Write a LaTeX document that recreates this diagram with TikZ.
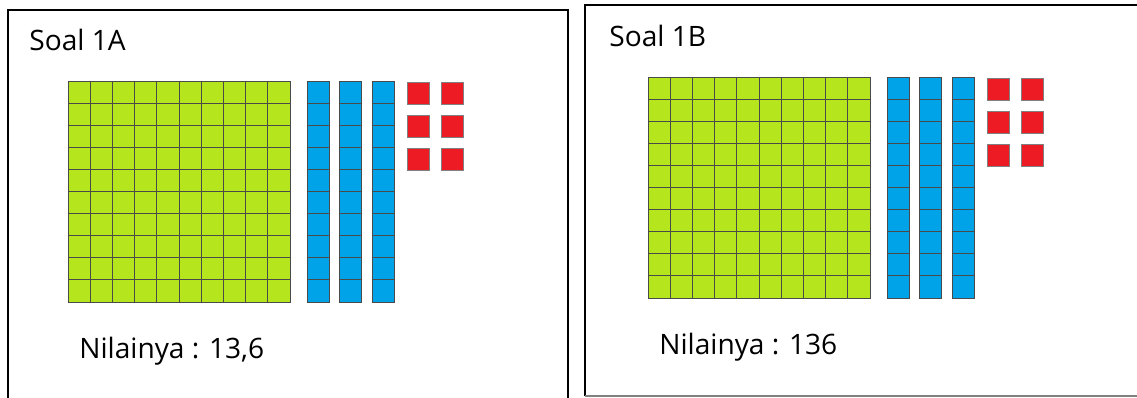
\documentclass[tikz,border=0pt]{standalone}
\usepackage{fontspec}
\setmainfont{Open Sans}
\definecolor{hijaublok}{HTML}{B5E61D}
\definecolor{birublok}{HTML}{00A2E8}
\definecolor{merahblok}{HTML}{ED1C24}
\definecolor{garisblok}{HTML}{4A4A4A}
\begin{document}
\begin{tikzpicture}[x=0.02cm, y=-0.02cm,
		ratus/.style={fill=hijaublok, draw=garisblok, line width=0.5pt},
		puluh/.style={fill=birublok, draw=garisblok, line width=0.5pt},
		satu/.style={fill=merahblok, draw=gray, line width=0.5pt},
		teks/.style={font=\fontsize{16}{19}\selectfont, inner sep=0pt, anchor=base west}]
			\useasboundingbox (0, 0) rectangle (1137, 397);
			% kotak soal
			\draw[line width=0.9pt] (8, 400) -- (8, 10) -- (568, 10) -- (568, 400);
			\draw[line width=0.9pt] (585, 396) -- (585, 5) -- (1140, 5);
			\draw[line width=0.9pt, gray] (585, 396) -- (1140, 396);
			\foreach \dx/\dy/\soal/\nilai in {0/0/A/{13,6}, 580/-4/B/136} {
				\begin{scope}[shift={(\dx, \dy)}]
					% ratusan
					\foreach \i in {0,...,9}
						\foreach \j in {0,...,9}
							\filldraw[ratus] (68+22.2*\i, 81+22.1*\j) rectangle ++(22.2, 22.1);
					% puluhan
					\foreach \x in {307, 339.5, 372}
						\foreach \j in {0,...,9}
							\filldraw[puluh] (\x, 81+22.1*\j) rectangle ++(22, 22.1);
					% satuan
					\foreach \x in {407, 441}
						\foreach \y in {82, 115, 148}
							\filldraw[satu] (\x, \y) rectangle ++(22, 22);
					\node[teks] (judul\soal) at (29, 50) {Soal 1\soal};
					\node[teks] (nilai\soal) at (79, 358) {Nilainya : \nilai};
				\end{scope}
			}
		\end{tikzpicture}
\end{document}
